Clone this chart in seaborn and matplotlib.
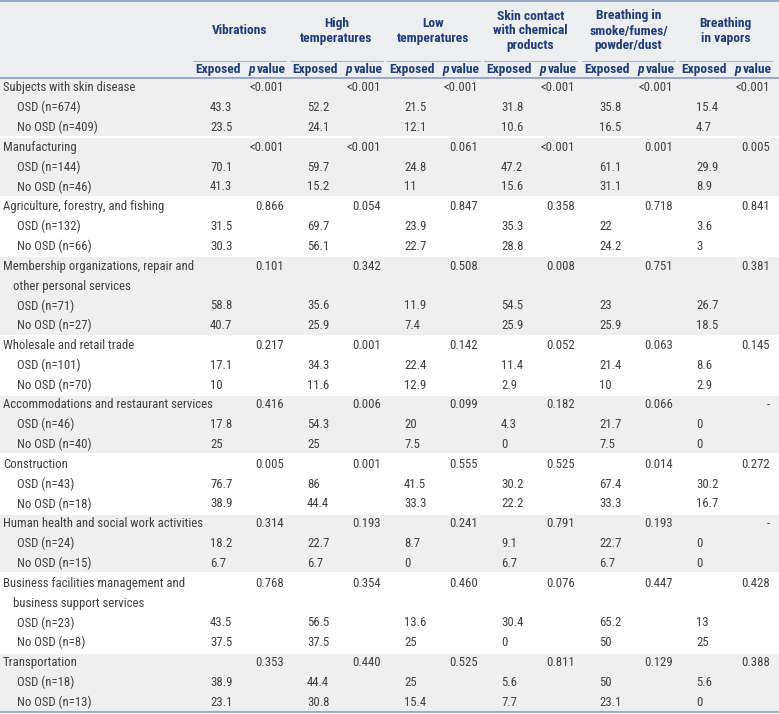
import matplotlib
matplotlib.use("Agg")
import matplotlib.pyplot as plt
import seaborn as sns
import pandas as pd
from matplotlib.colors import ListedColormap

# table content
groups = [
    "Subjects with skin disease",
    "Manufacturing",
    "Agriculture, forestry, and fishing",
    "Membership organizations, repair and\nother personal services",
    "Wholesale and retail trade",
    "Accommodations and restaurant services",
    "Construction",
    "Human health and social work activities",
    "Business facilities management and\nbusiness support services",
    "Transportation",
]
osd_n = [674, 144, 132, 71, 101, 46, 43, 24, 23, 18]
no_osd_n = [409, 46, 66, 27, 70, 40, 18, 15, 8, 13]
shaded = [1, 1, 0, 1, 0, 1, 0, 1, 0, 1]

exposures = ["Vibrations", "High\ntemperatures", "Low\ntemperatures",
             "Skin contact\nwith chemical\nproducts",
             "Breathing in\nsmoke/fumes/\npowder/dust", "Breathing\nin vapors"]

vib_osd = ["43.3", "70.1", "31.5", "58.8", "17.1", "17.8", "76.7", "18.2", "43.5", "38.9"]
vib_no = ["23.5", "41.3", "30.3", "40.7", "10", "25", "38.9", "6.7", "37.5", "23.1"]
vib_p = ["<0.001", "<0.001", "0.866", "0.101", "0.217", "0.416", "0.005", "0.314", "0.768", "0.353"]

high_osd = ["52.2", "59.7", "69.7", "35.6", "34.3", "54.3", "86", "22.7", "56.5", "44.4"]
high_no = ["24.1", "15.2", "56.1", "25.9", "11.6", "25", "44.4", "6.7", "37.5", "30.8"]
high_p = ["<0.001", "<0.001", "0.054", "0.342", "0.001", "0.006", "0.001", "0.193", "0.354", "0.440"]

low_osd = ["21.5", "24.8", "23.9", "11.9", "22.4", "20", "41.5", "8.7", "13.6", "25"]
low_no = ["12.1", "11", "22.7", "7.4", "12.9", "7.5", "33.3", "0", "25", "15.4"]
low_p = ["<0.001", "0.061", "0.847", "0.508", "0.142", "0.099", "0.555", "0.241", "0.460", "0.525"]

skin_osd = ["31.8", "47.2", "35.3", "54.5", "11.4", "4.3", "30.2", "9.1", "30.4", "5.6"]
skin_no = ["10.6", "15.6", "28.8", "25.9", "2.9", "0", "22.2", "6.7", "0", "7.7"]
skin_p = ["<0.001", "<0.001", "0.358", "0.008", "0.052", "0.182", "0.525", "0.791", "0.076", "0.811"]

smoke_osd = ["35.8", "61.1", "22", "23", "21.4", "21.7", "67.4", "22.7", "65.2", "50"]
smoke_no = ["16.5", "31.1", "24.2", "25.9", "10", "7.5", "33.3", "6.7", "50", "23.1"]
smoke_p = ["<0.001", "0.001", "0.718", "0.751", "0.063", "0.066", "0.014", "0.193", "0.447", "0.129"]

vap_osd = ["15.4", "29.9", "3.6", "26.7", "8.6", "0", "30.2", "0", "13", "5.6"]
vap_no = ["4.7", "8.9", "3", "18.5", "2.9", "0", "16.7", "0", "25", "0"]
vap_p = ["<0.001", "0.005", "0.841", "0.381", "0.145", "-", "0.272", "-", "0.428", "0.388"]

osd_cols = [vib_osd, high_osd, low_osd, skin_osd, smoke_osd, vap_osd]
no_cols = [vib_no, high_no, low_no, skin_no, smoke_no, vap_no]
p_cols = [vib_p, high_p, low_p, skin_p, smoke_p, vap_p]

sns.set_theme(style="white")
plt.rcParams["font.family"] = ["Roboto Condensed", "DejaVu Sans"]

W, H = 779, 714
TXT = "#404040"
NAVY = "#1f3d78"
RULE = "#8d9dbf"
HEAD_BG = "#edeef0"
BAND = "#efefef"

# one entry per printed line
rows = []
for g, label in enumerate(groups):
    lines = label.split("\n")
    for k, ln in enumerate(lines):
        rows.append(("group" if k == 0 else "cont", g, ln))
    rows.append(("osd", g, f"OSD (n={osd_n[g]})"))
    rows.append(("no", g, f"No OSD (n={no_osd_n[g]})"))

top, bottom = 78, 712
rh = (bottom - top) / len(rows)

fig = plt.figure(figsize=(W / 100, H / 100), dpi=100)

# shaded bands via seaborn heatmap
ax_bg = fig.add_axes([0, (H - bottom) / H, 1, (bottom - top) / H])
band_df = pd.DataFrame({"band": [shaded[g] for _, g, _ in rows]})
sns.heatmap(band_df, cmap=ListedColormap(["white", BAND]), vmin=0, vmax=1,
            cbar=False, xticklabels=False, yticklabels=False, ax=ax_bg)
ax_bg.set_axis_off()

ax = fig.add_axes([0, 0, 1, 1], facecolor="none")
ax.set_xlim(0, W)
ax.set_ylim(H, 0)
ax.set_axis_off()

# header
ax.add_patch(plt.Rectangle((0, 0), W, top, color=HEAD_BG, zorder=0))
ax.axhline(1, color=RULE, lw=1.2)
ax.axhline(top, color=RULE, lw=1.2)
ax.axhline(bottom, color=RULE, lw=1.2)

starts = [193, 290, 387, 484, 582, 679]
gw = 93
fs_head = 9.7
fs = 9.2

fig.canvas.draw()
renderer = fig.canvas.get_renderer()
for j, s in enumerate(starts):
    ax.text(s + gw / 2, 31, exposures[j], ha="center", va="center", color=NAVY,
            fontsize=fs_head, fontweight="bold", linespacing=1.2)
    ax.plot([s, s + gw], [61, 61], color="#a9b4cc", lw=0.8)
    ax.text(s + 2, 69.5, "Exposed", ha="left", va="center", color=NAVY,
            fontsize=fs_head, fontweight="bold")
    tv = ax.text(s + gw, 69.5, "value", ha="right", va="center", color=NAVY,
                 fontsize=fs_head, fontweight="bold")
    bb = tv.get_window_extent(renderer)
    ax.text(bb.x0 - 2, H - 69.5, "p", ha="right", va="center", color=NAVY,
            fontsize=fs_head, fontweight="bold", style="italic",
            transform=None)

# thin white separators between groups
for i, (kind, g, ln) in enumerate(rows):
    if kind == "group" and i > 0:
        ax.axhline(top + i * rh, color="white", lw=1.5)

for i, (kind, g, ln) in enumerate(rows):
    y = top + (i + 0.5) * rh
    x = {"group": 3, "cont": 13, "osd": 17, "no": 17}[kind]
    ax.text(x, y, ln, ha="left", va="center", color=TXT, fontsize=fs)
    for j, s in enumerate(starts):
        if kind == "group":
            val, xx, ha = p_cols[j][g], s + 91, "right"
        elif kind == "osd":
            val, xx, ha = osd_cols[j][g], s + 17, "left"
        elif kind == "no":
            val, xx, ha = no_cols[j][g], s + 17, "left"
        else:
            continue
        ax.text(xx, y, val, ha=ha, va="center", color=TXT, fontsize=fs)

fig.savefig("out.png", dpi=100)
